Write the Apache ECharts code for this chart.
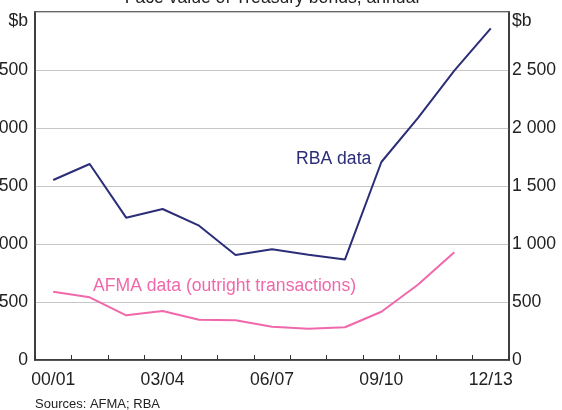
<!DOCTYPE html>
<html>
<head>
<meta charset="utf-8">
<script src="https://cdn.jsdelivr.net/npm/echarts@6/dist/echarts.min.js"></script>
<style>
html,body{margin:0;padding:0;background:#fff;}
#c{width:562px;height:410px;}
</style>
</head>
<body>
<div id="c"></div>
<script>
var categories = ['00/01','01/02','02/03','03/04','04/05','05/06','06/07','07/08','08/09','09/10','10/11','11/12','12/13'];
var rbaData = [1552, 1690, 1227, 1302, 1158, 905, 954, 908, 866, 1707, 2086, 2495, 2859];
var afmaData = [589, 540, 385, 422, 347, 342, 287, 270, 282, 416, 649, 928, null];
var yTicks = [0, 500, 1000, 1500, 2000, 2500, 3000];

var FONT = "Arial, 'Liberation Sans', sans-serif";
var FS = 17.6;
var NAVY = '#2b2e77';
var PINK = '#f068ab';
function fmt(v){
  if (v === 3000) return '';
  var s = String(v);
  if (v >= 1000) s = s.slice(0, s.length-3) + ' ' + s.slice(s.length-3);
  return s;
}
var chart = echarts.init(document.getElementById('c'), null, {renderer:'canvas'});
var yCommon = {
  type:'value', min: yTicks[0], max: yTicks[yTicks.length-1], interval: 500,
  axisLine:{show:true, lineStyle:{color:'#333', width:1.5}},
  axisTick:{show:false},
  splitLine:{show:true, lineStyle:{color:'#c6c6c6', width:1}},
  axisLabel:{color:'#222', fontSize:FS, fontFamily:FONT, formatter: fmt}
};
chart.setOption({
  animation:false,
  grid:{left:35, right:53, top:12, bottom:50, containLabel:false, outerBoundsMode:'none', show:true, borderColor:'#333', borderWidth:1.5},
  graphic:[
    {type:'text', style:{text:'Face value of Treasury bonds, annual', x:272, y:-2, align:'center', verticalAlign:'middle', fontSize:FS, fontFamily:FONT, fill:'#222'}},
    {type:'text', style:{text:'$b', x:28, y:21, align:'right', verticalAlign:'middle', fontSize:FS, fontFamily:FONT, fill:'#222'}},
    {type:'text', style:{text:'$b', x:512, y:21, align:'left', verticalAlign:'middle', fontSize:FS, fontFamily:FONT, fill:'#222'}},
    {type:'text', style:{text:'RBA data', x:296, y:159, align:'left', verticalAlign:'middle', fontSize:FS, fontFamily:FONT, fill:NAVY}},
    {type:'text', style:{text:'AFMA data (outright transactions)', x:93, y:286, align:'left', verticalAlign:'middle', fontSize:FS, fontFamily:FONT, fill:PINK}},
    {type:'text', style:{text:'Sources: AFMA; RBA', x:35, y:404, align:'left', verticalAlign:'middle', fontSize:13, fontFamily:FONT, fill:'#222'}}
  ],
  xAxis:{
    type:'category', data:categories, boundaryGap:true,
    axisLine:{show:true, lineStyle:{color:'#333', width:1.5}},
    axisTick:{show:true, inside:true, length:5, interval:0, lineStyle:{color:'#333', width:1}},
    axisLabel:{interval:2, color:'#222', fontSize:FS, fontFamily:FONT, margin:11},
    splitLine:{show:false}
  },
  yAxis:[
    Object.assign({}, yCommon, {position:'left', axisLabel:Object.assign({}, yCommon.axisLabel, {margin:7})}),
    Object.assign({}, yCommon, {position:'right', splitLine:{show:false}, axisLabel:Object.assign({}, yCommon.axisLabel, {margin:3})})
  ],
  series:[
    {type:'line', name:'RBA data', data:rbaData, yAxisIndex:0, symbol:'none', lineStyle:{color:NAVY, width:2}},
    {type:'line', name:'AFMA data', data:afmaData, yAxisIndex:0, symbol:'none', lineStyle:{color:PINK, width:2}}
  ]
});
</script>
</body>
</html>
